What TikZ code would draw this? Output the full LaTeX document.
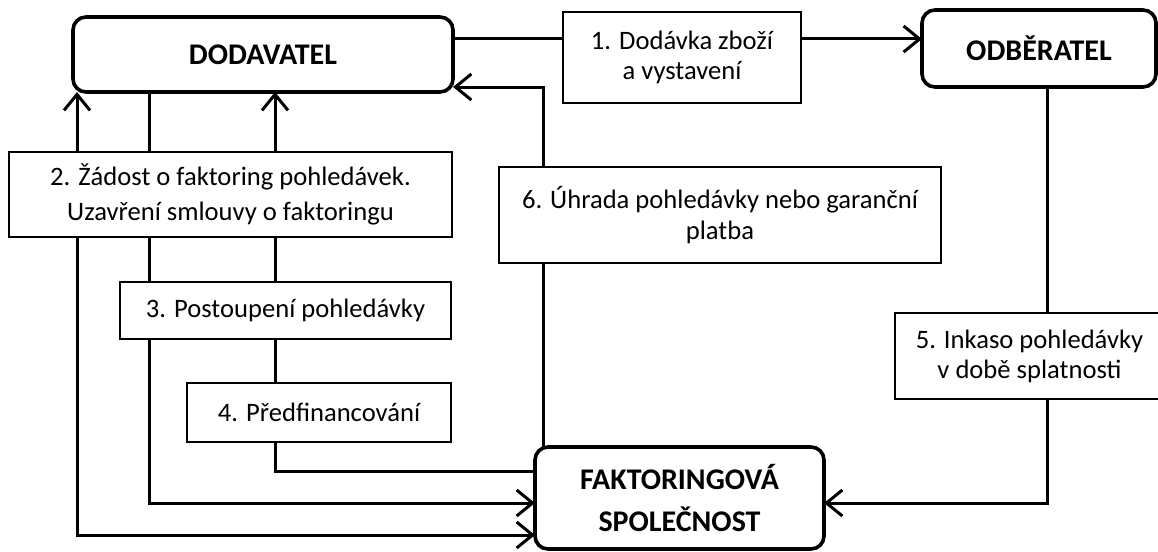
\documentclass[tikz,border=0pt]{standalone}
\usepackage{fontspec}
\setmainfont{Carlito}
\usetikzlibrary{arrows.meta}
\begin{document}
\begin{tikzpicture}[x=1pt,y=-1pt,
  line width=3pt,
  stepbox/.style={draw, line width=2.8pt, rectangle, outer sep=0pt, inner sep=0pt,
    align=center, font=\fontsize{26.6}{31}\selectfont},
  party/.style={draw, line width=3.6pt, rounded corners=13pt, outer sep=0pt, inner sep=0pt,
    align=center, font=\fontsize{30}{42}\selectfont\bfseries},
  arr/.style={-{Straight Barb[length=16pt,width=26pt]}}]
\useasboundingbox (0,0) rectangle (1158,551);

% parties
\node[party, minimum width=380pt, minimum height=75pt] (dod) at (263,54.5) {DODAVATEL};
\node[party, minimum width=234pt, minimum height=77pt] (odb) at (1039,48.5) {ODBĚRATEL};
\node[party, minimum width=289pt, minimum height=102pt] (fak) at (679.5,498) {FAKTORINGOVÁ\\SPOLEČNOST};

% process steps
\node[stepbox, minimum width=238pt, minimum height=91pt, font=\fontsize{26.6}{29.5}\selectfont] (b1) at (682,57.5) {1. Dodávka zboží\\a vystavení};
\node[stepbox, minimum width=443pt, minimum height=85pt, font=\fontsize{26.6}{35}\selectfont] (b2) at (230.5,194.5) {2. Žádost o faktoring pohledávek.\\Uzavření smlouvy o faktoringu};
\node[stepbox, minimum width=331pt, minimum height=57pt] (b3) at (285.5,310.5) {3. Postoupení pohledávky};
\node[stepbox, minimum width=264pt, minimum height=59pt] (b4) at (319,412.5) {4. Předfinancování};
\node[stepbox, minimum width=269pt, minimum height=86pt, font=\fontsize{26.6}{30}\selectfont] (b5) at (1029.5,356) {5. Inkaso pohledávky\\v době splatnosti};
\node[stepbox, minimum width=442pt, minimum height=96pt] (b6) at (720,215) {6. Úhrada pohledávky nebo garanční\\platba};

% rails of the connectors
\coordinate (c1) at (77,0);
\coordinate (c2) at (149,0);
\coordinate (c3) at (275,0);
\coordinate (c6) at (543,0);
\coordinate (c5) at (1047,0);
\coordinate (r1) at (0,39);
\coordinate (r6) at (0,87);
\coordinate (ra) at (0,471);
\coordinate (rb) at (0,503);
\coordinate (rc) at (0,535);

% connectors
\draw (dod.east |- r1) -- (b1.west |- r1);
\draw[arr] (b1.east |- r1) -- (odb.west |- r1);
\draw (odb.south -| c5) -- (b5.north -| c5);
\draw[arr] (b5.south -| c5) |- (fak.east |- rb);
\draw[arr] (b6.north -| c6) |- (dod.east |- r6);
\draw (b6.south -| c6) -- (fak.north -| c6);
\draw[arr] (b2.north -| c1) -- (dod.south -| c1);
\draw (b2.north -| c2) -- (dod.south -| c2);
\draw[arr] (b2.north -| c3) -- (dod.south -| c3);
\draw[arr] (b2.south -| c1) |- (fak.west |- rc);
\draw (b2.south -| c2) -- (b3.north -| c2);
\draw[arr] (b3.south -| c2) |- (fak.west |- rb);
\draw (b2.south -| c3) -- (b3.north -| c3);
\draw (b3.south -| c3) -- (b4.north -| c3);
\draw (b4.south -| c3) |- (fak.west |- ra);
\end{tikzpicture}
\end{document}
